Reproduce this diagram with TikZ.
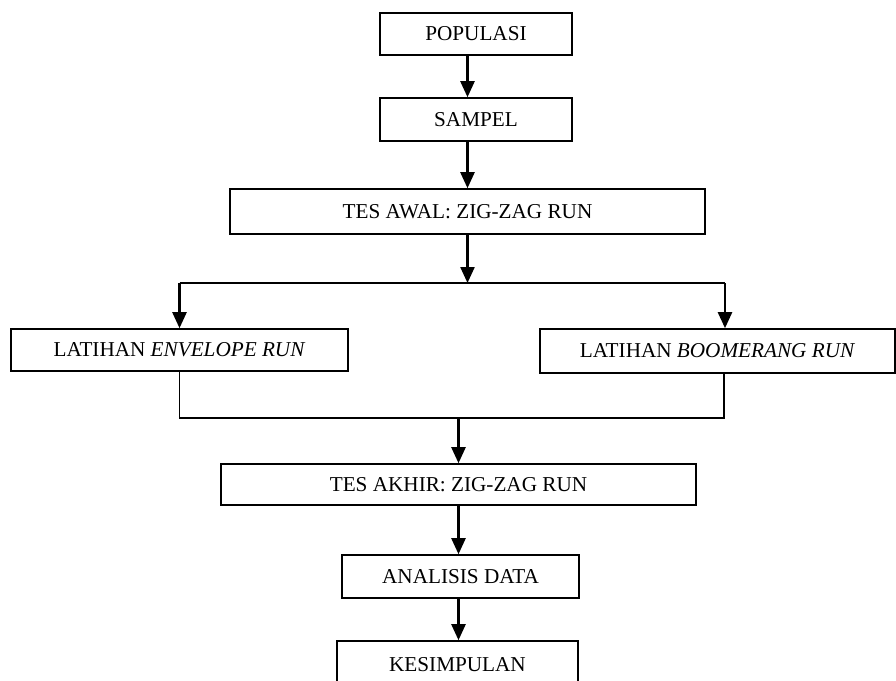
\documentclass[tikz,border=0pt]{standalone}
\usepackage{fontspec}
\setmainfont{Liberation Serif}
\usepackage{tikz}
\usetikzlibrary{arrows.meta}
\usetikzlibrary{positioning}

\begin{document}
\begin{tikzpicture}[x=0.5pt, y=-0.5pt,
  box/.style={rectangle, draw=black, line width=0.8pt, inner sep=0pt, font=\fontsize{10.6}{12}\selectfont},
  flow/.style={line width=1.2pt, -{Triangle[length=8pt, width=7pt]}},
  joinline/.style={line width=0.7pt}]
\useasboundingbox (0,0) rectangle (896,681);
\node (pop) [box, minimum width=96pt, minimum height=21pt] at (476, 34) {POPULASI};
\node (sam) [box, minimum width=96pt, minimum height=21.5pt] at (476, 119.5) {SAMPEL};
\node (awal) [box, minimum width=237.5pt, minimum height=22.5pt] at (467.5, 211.5) {TES AWAL: ZIG-ZAG RUN};
\node (env) [box, minimum width=168.5pt, minimum height=21pt] at (179.5, 350) {LATIHAN \textit{ENVELOPE RUN}};
\node (boom) [box, minimum width=177.5pt, minimum height=22pt] at (717.5, 351) {LATIHAN \textit{BOOMERANG RUN}};
\node (akhir) [box, minimum width=237.5pt, minimum height=20.5pt] at (458.5, 484.5) {TES AKHIR: ZIG-ZAG RUN};
\node (anal) [box, minimum width=118.5pt, minimum height=21.5pt] at (460.5, 576.5) {ANALISIS DATA};
\node (kes) [box, minimum width=120.5pt, minimum height=24pt] at (457.5, 665) {KESIMPULAN};
\coordinate (split) at (467.5, 283);
\coordinate (lt) at (179.5, 283);
\coordinate (rt) at (725, 283);
\coordinate (lb) at (179.5, 418);
\coordinate (rb) at (724, 418);
\coordinate (merge) at (458.5, 418);
\draw [flow] (pop.south -| awal.north) to (sam.north -| awal.north);
\draw [flow] (sam.south -| awal.north) to (awal.north);
\draw [flow] (awal.south) to (split);
\draw [line width=1.1pt] (lt) to (rt);
\draw [flow] (lt) to (env.north);
\draw [flow] (rt) to (rt |- boom.north);
\draw [joinline] (env.south) to (lb) to (rb) to (rb |- boom.south);
\draw [flow] (merge) to (akhir.north);
\draw [flow] (akhir.south) to (akhir.south |- anal.north);
\draw [flow] (akhir.south |- anal.south) to (akhir.south |- kes.north);
\end{tikzpicture}
\end{document}
